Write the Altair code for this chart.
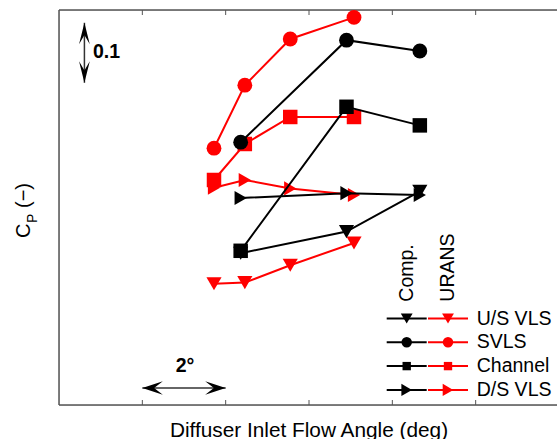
import altair as alt
import pandas as pd

# Diffuser inlet flow angle (deg, relative scale) at each operating point
comp_angle = [4.36, 6.90, 8.66]
urans_angle = [3.72, 4.46, 5.55, 7.08]

# Pressure recovery coefficient C_P, computational (Comp.) series
comp_us = [0.253, 0.289, 0.356]
comp_svls = [0.438, 0.608, 0.590]
comp_channel = [0.257, 0.497, 0.466]
comp_ds = [0.345, 0.353, 0.350]

# Pressure recovery coefficient C_P, URANS series
urans_us = [0.202, 0.204, 0.233, 0.270]
urans_svls = [0.428, 0.533, 0.610, 0.646]
urans_channel = [0.375, 0.435, 0.480, 0.480]
urans_ds = [0.362, 0.375, 0.361, 0.350]

configs = ["U/S VLS", "SVLS", "Channel", "D/S VLS"]
sources = ["Comp.", "URANS"]
shapes = ["triangle-down", "circle", "square", "triangle-right"]
sizes = [230, 200, 120, 240]
legend_sizes = [140, 110, 70, 150]
colors = ["#000000", "#ff0000"]
# drawing order of the configurations (last one ends up on top)
draw_order = ["Channel", "SVLS", "D/S VLS", "U/S VLS"]

X_MAX = 11.952
Y_MAX = 0.6583
W, H = 498, 395

rows = []
for src, xs, series in [
    ("Comp.", comp_angle, [comp_us, comp_svls, comp_channel, comp_ds]),
    ("URANS", urans_angle, [urans_us, urans_svls, urans_channel, urans_ds]),
]:
    for cfg, ys in zip(configs, series):
        for a, c in zip(xs, ys):
            rows.append({"angle": a, "cp": c, "config": cfg, "source": src})
df = pd.DataFrame(rows)

xs_ = alt.Scale(domain=[0, X_MAX], nice=False, zero=False)
ys_ = alt.Scale(domain=[0, Y_MAX], nice=False, zero=False)
X = alt.X("angle:Q", scale=xs_, axis=None)
Y = alt.Y("cp:Q", scale=ys_, axis=None)
color = alt.Color("source:N", scale=alt.Scale(domain=sources, range=colors), legend=None)
shape = alt.Shape("config:N", scale=alt.Scale(domain=configs, range=shapes), legend=None)
size = alt.Size("config:N", scale=alt.Scale(domain=configs, range=sizes), legend=None)


def series_layers(src):
    out = []
    for cfg in draw_order:
        sub = alt.Chart(df).transform_filter(
            (alt.datum.source == src) & (alt.datum.config == cfg)
        )
        out.append(sub.mark_line(strokeWidth=2).encode(
            x=X, y=Y, color=color, detail="config:N", order="angle:Q"
        ))
        out.append(sub.mark_point(filled=True, opacity=1).encode(
            x=X, y=Y, color=color, shape=shape, size=size
        ))
    return out


one = pd.DataFrame({"k": [0]})
frame_color = "#555555"

# Plot frame: left, top and bottom edges, plus inward ticks every 2 deg
frame_df = pd.DataFrame({
    "x": [0, 0, 0], "x2": [0, X_MAX, X_MAX],
    "y": [0, Y_MAX, 0], "y2": [Y_MAX, Y_MAX, 0],
})
frame = alt.Chart(frame_df).mark_rule(color=frame_color, strokeWidth=1.5).encode(
    x=alt.X("x:Q", scale=xs_, axis=None), x2="x2:Q",
    y=alt.Y("y:Q", scale=ys_, axis=None), y2="y2:Q",
)
tick_vals = [2, 4, 6, 8, 10]
tick_len = 5 / (H / Y_MAX)
ticks_df = pd.DataFrame({
    "x": tick_vals * 2,
    "y": [0] * 5 + [Y_MAX - tick_len] * 5,
    "y2": [tick_len] * 5 + [Y_MAX] * 5,
})
ticks = alt.Chart(ticks_df).mark_rule(color=frame_color, strokeWidth=1).encode(
    x=alt.X("x:Q", scale=xs_, axis=None),
    y=alt.Y("y:Q", scale=ys_, axis=None), y2="y2:Q",
)

# Scale-bar arrows: 0.1 in C_P and 2 deg in flow angle
head_v = "M0,0L-0.5,2L0,1.15L0.5,2Z"
head_h = "M0,0L-0.65,2L0,1.15L0.65,2Z"
cp_bar = [0.537, 0.637]
cp_bar_x = 0.61
ang_bar = [2, 4]
ang_bar_y = 0.0283

vbar = alt.Chart(pd.DataFrame({"x": [cp_bar_x], "y": [cp_bar[0]], "y2": [cp_bar[1]]})).mark_rule(
    color="#333333", strokeWidth=1.5
).encode(x=alt.X("x:Q", scale=xs_, axis=None), y=alt.Y("y:Q", scale=ys_, axis=None), y2="y2:Q")
vheads = alt.Chart(pd.DataFrame({"x": [cp_bar_x] * 2, "y": cp_bar, "a": [180, 0]})).mark_point(
    filled=True, opacity=1, color="black", shape=head_v, size=460
).encode(x=alt.X("x:Q", scale=xs_, axis=None), y=alt.Y("y:Q", scale=ys_, axis=None),
         angle=alt.Angle("a:Q", scale=None))
hbar = alt.Chart(pd.DataFrame({"x": [ang_bar[0]], "x2": [ang_bar[1]], "y": [ang_bar_y]})).mark_rule(
    color="#333333", strokeWidth=1.5
).encode(x=alt.X("x:Q", scale=xs_, axis=None), x2="x2:Q", y=alt.Y("y:Q", scale=ys_, axis=None))
hheads = alt.Chart(pd.DataFrame({"x": ang_bar, "y": [ang_bar_y] * 2, "a": [270, 90]})).mark_point(
    filled=True, opacity=1, color="black", shape=head_h, size=420
).encode(x=alt.X("x:Q", scale=xs_, axis=None), y=alt.Y("y:Q", scale=ys_, axis=None),
         angle=alt.Angle("a:Q", scale=None))

bold = dict(font="Liberation Sans", fontWeight="bold", fontSize=19.5, color="black")
cp_label = alt.Chart(one).mark_text(align="left", baseline="middle", **bold).encode(
    x=alt.value(34), y=alt.value(42), text=alt.value("0.1"))
ang_label = alt.Chart(one).mark_text(align="center", baseline="middle", **bold).encode(
    x=alt.value(126), y=alt.value(356), text=alt.value("2°"))

# Axis titles drawn as text so the subscript can be set
font = dict(font="Liberation Sans", color="black")
xtitle = alt.Chart(one).mark_text(align="center", baseline="alphabetic", fontSize=20.8, **font).encode(
    x=alt.value(250), y=alt.value(426.5), text=alt.value("Diffuser Inlet Flow Angle (deg)"))
yt_c = alt.Chart(one).mark_text(align="left", baseline="alphabetic", angle=270, fontSize=20, **font).encode(
    x=alt.value(-29), y=alt.value(228), text=alt.value("C"))
yt_p = alt.Chart(one).mark_text(align="left", baseline="alphabetic", angle=270, fontSize=14, **font).encode(
    x=alt.value(-22), y=alt.value(213), text=alt.value("P"))
yt_u = alt.Chart(one).mark_text(align="left", baseline="alphabetic", angle=270, fontSize=20, **font).encode(
    x=alt.value(-29), y=alt.value(198), text=alt.value("(−)"))

# Two-column legend: Comp. (black) and URANS (red)
legend = []
col_mid = [347.7, 389.0]
half = 20
row0, row_step = 308.5, 23.8
for j, src in enumerate(sources):
    legend.append(alt.Chart(one).mark_text(align="left", baseline="middle", angle=270, fontSize=19.5, **font).encode(
        x=alt.value(col_mid[j]), y=alt.value(291.7), text=alt.value(src)))
for i, cfg in enumerate(configs):
    yy = row0 + row_step * i
    for j in range(2):
        legend.append(alt.Chart(one).mark_rule(color=colors[j], strokeWidth=2).encode(
            x=alt.value(col_mid[j] - half), x2=alt.value(col_mid[j] + half), y=alt.value(yy)))
        legend.append(alt.Chart(one).mark_point(
            filled=True, opacity=1, color=colors[j], shape=shapes[i], size=legend_sizes[i]
        ).encode(x=alt.value(col_mid[j]), y=alt.value(yy)))
    legend.append(alt.Chart(one).mark_text(align="left", baseline="middle", fontSize=19.5, **font).encode(
        x=alt.value(417.7), y=alt.value(yy), text=alt.value(cfg)))

layers = (
    [frame, ticks]
    + series_layers("URANS")
    + series_layers("Comp.")
    + [vbar, vheads, hbar, hheads, cp_label, ang_label, xtitle, yt_c, yt_p, yt_u]
    + legend
)

chart = alt.layer(*layers).properties(
    width=W, height=H,
    padding={"left": 59, "top": 10, "right": 0, "bottom": 34},
    autosize="none",
).configure_view(stroke=None).configure(background="white")

chart.save("out.html", embed_options={"renderer": "svg", "actions": False})
